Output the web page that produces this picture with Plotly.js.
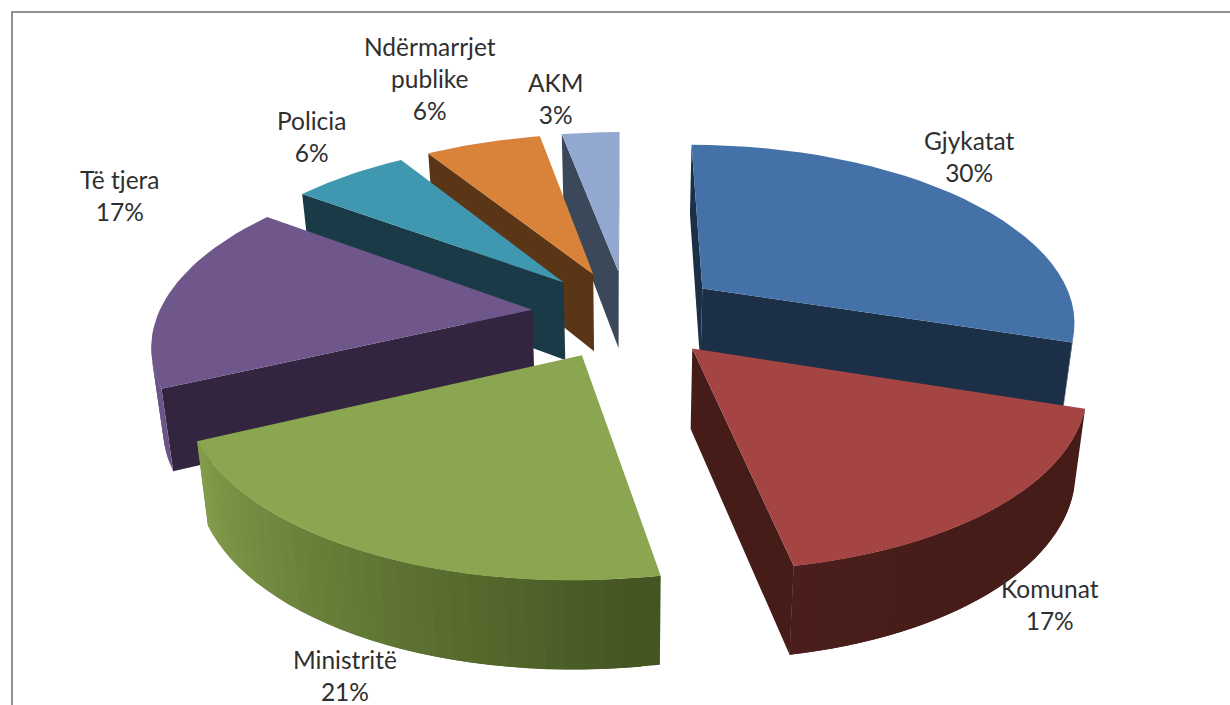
<!DOCTYPE html>
<html>
<head>
<meta charset="utf-8">
<script src="https://cdn.plot.ly/plotly-3.0.1.min.js"></script>
<style>html,body{margin:0;padding:0;background:#fff;overflow:hidden}</style>
</head>
<body>
<div id="chart" style="width:1230px;height:705px"></div>
<script>
// Data
const categories = ["Gjykatat", "Komunat", "Ministritë", "Të tjera", "Policia", "Ndërmarrjet<br>publike", "AKM"];
const shares = [30, 17, 21, 17, 6, 6, 3];

// Styles
const topColors = ["#4472a8", "#a54543", "#8aa650", "#6f578c", "#3f98b0", "#d98239", "#92a8d0"];
const wallColors = ["#1b2f47", "#461c19", "#40501f", "#33243f", "#1a3a47", "#5a3516", "#3b485a"];
const drawOrder = [6, 5, 4, 3, 0, 1, 2];
const labelAnchors = [[969,156],[1050,604],[345,675],[120,195],[311,136],[430,78],[556,98]];

// 3D view of the pie plane
const view = {cx:627, cy:314, A:382, B:178, px:0.175, p:0.164, radius:0.979, explode:0.25, depth:79, depthSlope:8.5, squeeze:0.025, steps:32};
function project(u, v, low) {
  let x = view.cx + view.A * u / (1 + view.px * v);
  let y = view.cy - view.B * v / (1 + view.p * v);
  if (low) {
    x = view.cx + (x - view.cx) * (1 - view.squeeze);
    y = y + view.depth - view.depthSlope * v;
  }
  return [x, y];
}
function hex(c){return [1,3,5].map(i=>parseInt(c.substr(i,2),16));}
function mix(a,b,t){const A=hex(a),B=hex(b);return 'rgb('+A.map((v,i)=>Math.round(v+(B[i]-v)*t)).join(',')+')';}
// light on the outer wall falls from the left of the pie to the right
function arcLight(deg){
  if (deg <= 150) return 0.0;
  if (deg <= 172) return 0.06*(deg-150)/22;
  if (deg <= 245) return 0.06 + 0.84*(deg-172)/73;
  return 0.95;
}
const traces = [];
function poly(pts, color){
  traces.push({type:'scatter', mode:'lines', x:pts.map(p=>p[0]).concat(pts[0][0]), y:pts.map(p=>p[1]).concat(pts[0][1]),
    fill:'toself', fillcolor:color, line:{color:color, width:0}, hoverinfo:'skip', showlegend:false});
}
function faceQuad(P, Q){
  return [project(P[0],P[1],false), project(Q[0],Q[1],false), project(Q[0],Q[1],true), project(P[0],P[1],true)];
}
function isFront(q){
  let s=0;
  for(let i=0;i<4;i++){const n=q[(i+1)%4]; s+=q[i][0]*n[1]-n[0]*q[i][1];}
  return s < 0;
}
const total = shares.reduce((a,b)=>a+b,0);
const starts = []; let run = 0;
shares.forEach(s=>{starts.push(run); run += s/total*360;});
drawOrder.forEach(i=>{
  const a0 = starts[i], a1 = a0 + shares[i]/total*360, mid=(a0+a1)/2*Math.PI/180;
  const ex=[Math.sin(mid)*view.explode, Math.cos(mid)*view.explode];
  const rim=[];
  for(let k=0;k<=view.steps;k++){
    const d=a0+(a1-a0)*k/view.steps, r=d*Math.PI/180;
    rim.push({deg:d, p:[view.radius*Math.sin(r)+ex[0], view.radius*Math.cos(r)+ex[1]]});
  }
  const apex=ex;
  const q0=faceQuad(apex, rim[0].p);
  if (isFront(q0)) poly(q0, wallColors[i]);
  const q1=faceQuad(rim[view.steps].p, apex);
  if (isFront(q1)) poly(q1, wallColors[i]);
  for(let k=0;k<view.steps;k++){
    if (!isFront(faceQuad(rim[k].p, rim[k+1].p))) continue;
    const dm=(rim[k].deg+rim[k+1].deg)/2;
    // each strip runs under the next one, so no seam shows between them
    const nextIdx=Math.min(k+2, view.steps);
    poly(faceQuad(rim[k].p, rim[nextIdx].p), mix(wallColors[i], topColors[i], arcLight(dm)));
  }
  poly([apex].concat(rim.map(r=>r.p)).map(p=>project(p[0],p[1],false)), topColors[i]);
});

const annotations = categories.map((c,i)=>({
  x:labelAnchors[i][0], y:labelAnchors[i][1], xref:'x', yref:'y', xanchor:'center', yanchor:'middle',
  text:c+'<br>'+shares[i]+'%', showarrow:false, align:'center',
  font:{family:'Lato, "Open Sans", sans-serif', size:24.5, color:'#2f2f2f'}
}));

const layout = {
  width:1230, height:705, margin:{l:0,r:0,t:0,b:0,pad:0},
  paper_bgcolor:'#ffffff', plot_bgcolor:'#ffffff', showlegend:false,
  xaxis:{range:[0,1230], visible:false, fixedrange:true},
  yaxis:{range:[705,0], visible:false, fixedrange:true},
  annotations:annotations,
  shapes:[
    {type:'line', xref:'x', yref:'y', x0:12, x1:12, y0:11.5, y1:705, line:{color:'#8f8f8f', width:2}},
    {type:'line', xref:'x', yref:'y', x0:11, x1:1230, y0:12, y1:12, line:{color:'#8f8f8f', width:2}}
  ]
};
Plotly.newPlot('chart', traces, layout, {displayModeBar:false, staticPlot:true});
</script>
</body>
</html>
